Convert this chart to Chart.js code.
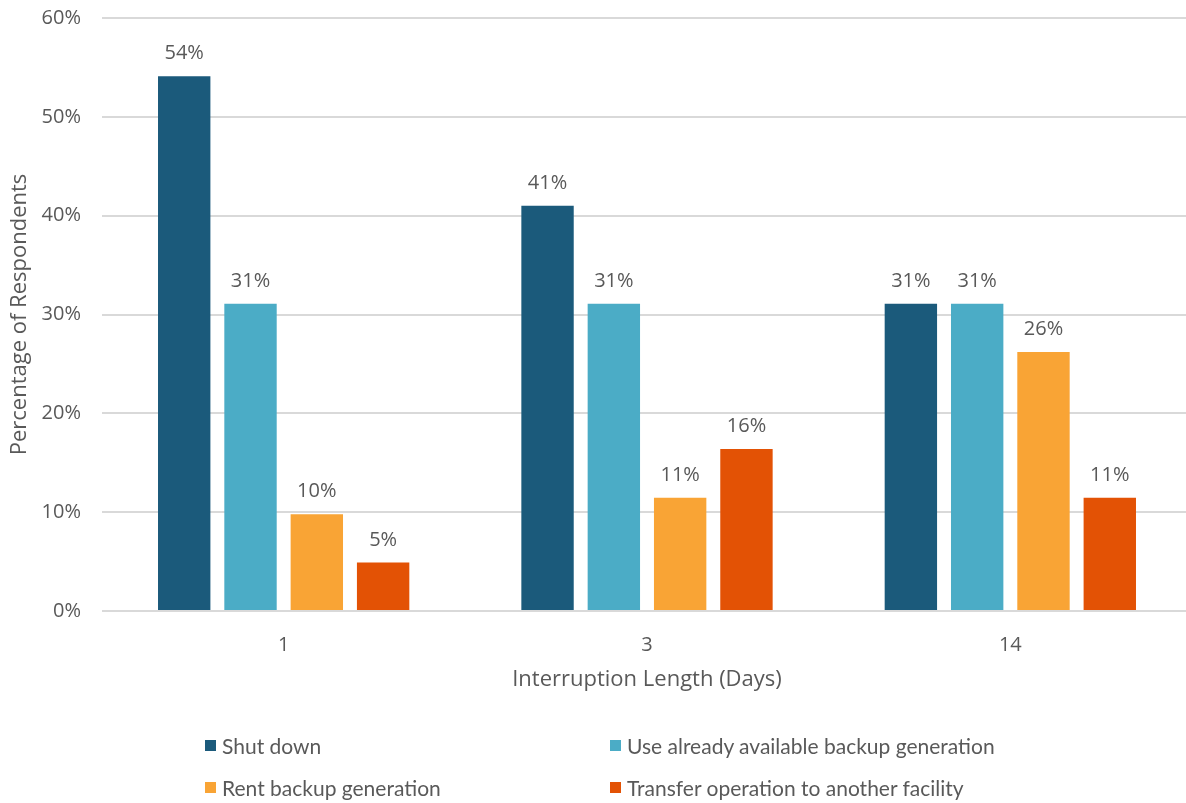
<!DOCTYPE html>
<html>
<head>
<meta charset="utf-8">
<script src="https://cdn.jsdelivr.net/npm/chart.js@4/dist/chart.umd.min.js"></script>
<style>
  html, body { margin: 0; padding: 0; background: #fff; overflow: hidden; }
  #wrap { position: relative; width: 1192px; height: 693px; }
  #legend { position: absolute; left: 0; top: 0; width: 1186px; height: 803px; pointer-events: none;
    font-family: Lato, "Open Sans", sans-serif; font-size: 21px; color: #595959; }
  .item { position: absolute; display: flex; align-items: center; white-space: nowrap; }
  .box { width: 11px; height: 11px; margin-right: 6px; }
</style>
</head>
<body>
<div id="wrap"><canvas id="bars"></canvas></div>
<div id="legend"></div>
<script>
const days = ["1", "3", "14"];
const seriesNames = [
  "Shut down",
  "Use already available backup generation",
  "Rent backup generation",
  "Transfer operation to another facility",
];
// share of respondents (%) per interruption length
const shutDown = [54.1, 41.0, 31.1];
const useBackup = [31.1, 31.1, 31.1];
const rentBackup = [9.8, 11.47, 26.2];
const transferOp = [4.9, 16.4, 11.47];
const yTicks = [0, 10, 20, 30, 40, 50, 60];

const colors = ["#1B5A7B", "#4BACC6", "#F9A435", "#E35205"];
const values = [shutDown, useBackup, rentBackup, transferOp];
const textColor = "#595959";
const tickFont = { family: "'Open Sans', sans-serif", size: 20 };
const titleFont = { family: "'Open Sans', sans-serif", size: 22 };

const valueLabels = {
  id: "valueLabels",
  afterDatasetsDraw(chart) {
    const c = chart.ctx;
    c.save();
    c.font = "20px 'Open Sans', sans-serif";
    c.fillStyle = textColor;
    c.textAlign = "center";
    c.textBaseline = "alphabetic";
    chart.data.datasets.forEach((ds, i) => {
      chart.getDatasetMeta(i).data.forEach((bar, j) => {
        c.fillText(Math.round(ds.data[j]) + "%", bar.x, bar.y - 17);
      });
    });
    c.restore();
  },
};

new Chart(document.getElementById("bars"), {
  type: "bar",
  data: {
    labels: days,
    datasets: seriesNames.map((name, i) => ({
      label: name,
      data: values[i],
      backgroundColor: colors[i],
      categoryPercentage: 0.73,
      barPercentage: 0.79,
    })),
  },
  options: {
    responsive: true,
    maintainAspectRatio: false,
    animation: false,
    layout: { padding: { top: 18, right: 0, bottom: 0, left: 0 } },
    plugins: {
      legend: { display: false },
      tooltip: { enabled: false },
    },
    scales: {
      x: {
        grid: { display: false },
        border: { display: false },
        ticks: { color: textColor, font: tickFont, padding: 14 },
        title: {
          display: true,
          text: "Interruption Length (Days)",
          color: textColor,
          font: titleFont,
          padding: { top: 8, bottom: 0 },
        },
        afterFit(scale) { scale.height = 82; },
      },
      y: {
        min: 0,
        max: 60,
        afterBuildTicks(scale) { scale.ticks = yTicks.map((v) => ({ value: v })); },
        grid: { color: "#d9d9d9", lineWidth: 2, drawTicks: false },
        border: { display: false },
        ticks: { color: textColor, font: tickFont, padding: 21, callback: (v) => v + "%" },
        title: {
          display: true,
          text: "Percentage of Respondents",
          color: textColor,
          font: titleFont,
          padding: { top: 7, bottom: 0 },
        },
        afterFit(scale) {
          scale.width = 102;
          scale.paddingTop = 0;
          scale.paddingBottom = 0;
        },
      },
    },
  },
  plugins: [valueLabels],
});

// two-column legend under the plot
const legendPos = [[205, 745], [610, 745], [205, 787], [610, 787]];
const legend = document.getElementById("legend");
seriesNames.forEach((name, i) => {
  const item = document.createElement("div");
  item.className = "item";
  item.style.left = legendPos[i][0] + "px";
  item.style.top = (legendPos[i][1] - 12) + "px";
  item.style.height = "24px";
  item.innerHTML = '<span class="box" style="background:' + colors[i] + '"></span>' + name;
  legend.appendChild(item);
});
</script>
</body>
</html>
